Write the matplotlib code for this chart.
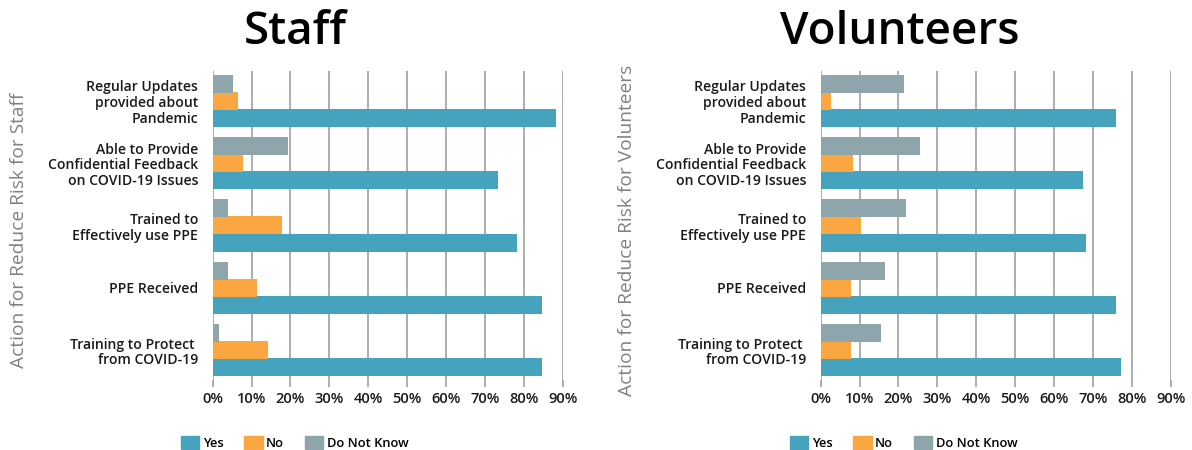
import numpy as np
import matplotlib.pyplot as plt
from matplotlib.patches import Patch
from matplotlib.transforms import ScaledTranslation

# categories, top to bottom
categories = [
    "Regular Updates\nprovided about\nPandemic",
    "Able to Provide\nConfidential Feedback\non COVID-19 Issues",
    "Trained to\nEffectively use PPE",
    "PPE Received",
    "Training to Protect \nfrom COVID-19",
]

# percent values
staff_yes = [88.2, 73.3, 78.2, 84.7, 84.7]
staff_no = [6.5, 7.8, 17.8, 11.4, 14.2]
staff_dnk = [5.2, 19.4, 3.9, 3.9, 1.6]

vol_yes = [76.0, 67.5, 68.3, 76.0, 77.3]
vol_no = [2.7, 8.3, 10.4, 7.8, 7.8]
vol_dnk = [21.4, 25.6, 22.0, 16.5, 15.5]

series_names = ["Yes", "No", "Do Not Know"]
colors = ["#45A3BE", "#FAA741", "#8FA5AC"]
xticks = list(range(0, 100, 10))

plt.rcParams['font.family'] = ['Open Sans', 'DejaVu Sans']

fig = plt.figure(figsize=(11.92, 4.5), dpi=100)


def draw_panel(left, title, title_x, ylabel, yes, no, dnk, legend_x):
    ax = fig.add_axes([left, 0.1556, 0.2936, 0.687])
    y = np.arange(len(categories))
    off = 0.275
    h = 0.29
    for vals, shift, col in zip([yes, no, dnk], [off, 0, -off], colors):
        ax.barh(y + shift, vals, height=h, color=col, zorder=3)
    ax.set_xlim(0, 90)
    ax.set_ylim(4.48, -0.48)
    ax.set_xticks(xticks)
    ax.set_xticklabels([f"{t}%" for t in xticks], fontsize=10.5,
                       fontweight='semibold', color='#1a1a1a')
    ax.set_yticks(y)
    ax.set_yticklabels(categories, fontsize=10.1, fontweight='semibold',
                       color='#1a1a1a', multialignment='right',
                       linespacing=1.15)
    # labels sit a little above the group centre
    shift_up = ScaledTranslation(0, 3 / 100, fig.dpi_scale_trans)
    for lab in ax.get_yticklabels():
        lab.set_transform(lab.get_transform() + shift_up)
    ax.tick_params(axis='y', length=0, pad=10.5)
    ax.tick_params(axis='x', length=5, color='#a0a0a0', width=1.2, pad=4)
    for s in ax.spines.values():
        s.set_visible(False)
    ax.grid(axis='x', color='#a0a0a0', linewidth=1.2, zorder=0)
    ax.set_ylabel(ylabel, fontsize=13.8, color='#808080')
    ax.yaxis.set_label_coords(-0.529, 0.484)
    fig.text(title_x, 450 - 33, title, fontsize=33, fontweight='semibold',
             ha='center', va='center', transform=None)
    handles = [Patch(color=c, label=n) for c, n in zip(colors, series_names)]
    fig.legend(handles=handles, loc='center left',
               bbox_to_anchor=(legend_x, 7 / 450),
               ncol=3, frameon=False, handlelength=1.45,
               handleheight=1.15, columnspacing=1.6, handletextpad=0.25,
               prop={'weight': 'semibold', 'size': 9.3})
    return ax


draw_panel(212.7 / 1192, "Staff", 295, "Action for Reduce Risk for Staff",
           staff_yes, staff_no, staff_dnk, 169 / 1192)
draw_panel(820.7 / 1192, "Volunteers", 900, "Action for Reduce Risk for Volunteers",
           vol_yes, vol_no, vol_dnk, 778 / 1192)

fig.savefig("out.png", dpi=100)
